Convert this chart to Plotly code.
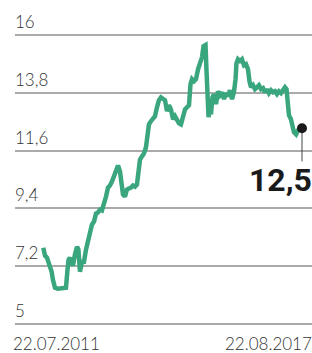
import plotly.graph_objects as go

dates = [
 "2011-07-22","2011-08-06","2011-08-23","2011-09-09","2011-10-02","2011-10-13","2011-10-31","2011-11-25","2011-12-30","2012-02-02",
 "2012-02-15","2012-02-24","2012-03-07","2012-03-25","2012-04-02","2012-04-19","2012-05-07","2012-05-19","2012-06-01","2012-06-19",
 "2012-07-06","2012-07-23","2012-08-09","2012-08-26","2012-09-12","2012-09-30","2012-10-17","2012-11-03","2012-11-20","2012-12-07",
 "2012-12-25","2013-01-11","2013-01-28","2013-02-14","2013-03-03","2013-03-21","2013-04-07","2013-04-24","2013-05-11","2013-05-24",
 "2013-06-06","2013-06-23","2013-07-10","2013-07-27","2013-08-14","2013-08-31","2013-09-17","2013-10-04","2013-10-17","2013-10-30",
 "2013-11-16","2013-12-03","2013-12-20","2014-01-02","2014-01-15","2014-02-01","2014-02-19","2014-03-08","2014-03-25","2014-04-11",
 "2014-04-28","2014-05-16","2014-06-02","2014-06-19","2014-07-06","2014-07-23","2014-08-10","2014-08-27","2014-09-13","2014-09-30",
 "2014-10-17","2014-11-04","2014-11-21","2014-12-08","2014-12-25","2015-01-07","2015-01-20","2015-02-06","2015-02-23","2015-03-13",
 "2015-03-30","2015-04-16","2015-04-29","2015-05-16","2015-05-24","2015-06-02","2015-06-11","2015-06-23","2015-07-02","2015-07-15",
 "2015-07-28","2015-08-14","2015-08-31","2015-09-17","2015-10-05","2015-10-22","2015-11-08","2015-11-25","2015-12-12","2015-12-30",
 "2016-01-16","2016-01-29","2016-02-06","2016-02-19","2016-03-07","2016-03-24","2016-04-11","2016-04-28","2016-05-15","2016-05-28",
 "2016-06-10","2016-06-27","2016-07-14","2016-07-31","2016-08-17","2016-09-04","2016-09-21","2016-10-08","2016-10-25","2016-11-11",
 "2016-11-29","2016-12-16","2017-01-02","2017-01-19","2017-02-05","2017-02-23","2017-03-12","2017-03-29","2017-04-11","2017-04-19",
 "2017-05-02","2017-05-19","2017-06-01","2017-06-14","2017-07-02","2017-07-19","2017-08-05","2017-08-22",
]
values = [
 7.90,7.60,7.52,7.29,6.99,6.68,6.38,6.34,6.38,6.38,
 7.06,7.44,7.52,7.37,7.22,7.64,7.94,7.83,6.99,7.37,
 7.37,7.83,8.21,8.51,8.78,8.90,9.20,9.24,9.35,9.32,
 9.55,9.85,10.19,10.27,10.42,10.65,10.88,11.03,10.81,10.31,
 9.93,9.85,10.12,10.16,10.19,10.27,10.23,10.31,10.88,11.26,
 11.38,11.49,11.72,12.33,12.60,12.72,12.79,12.91,13.25,13.52,
 13.63,13.59,13.52,13.10,13.33,13.17,12.79,12.91,12.72,12.64,
 12.60,12.87,13.17,13.25,13.33,14.13,14.32,14.24,14.32,14.70,
 15.01,15.16,15.58,15.62,14.70,13.56,12.87,13.25,12.98,13.63,
 13.75,13.37,13.86,13.71,13.82,13.56,13.79,13.67,13.90,13.56,
 13.86,14.32,14.93,15.08,15.01,15.08,14.85,14.89,14.70,14.24,
 14.01,14.09,13.94,14.01,14.09,13.94,13.98,13.82,13.94,13.79,
 13.90,13.82,13.86,13.75,13.86,13.79,13.94,14.01,13.94,13.33,
 12.95,12.79,12.49,12.30,12.22,12.37,12.41,12.45,
]
y_ticks = [5, 7.2, 9.4, 11.6, 13.8, 16]
y_tick_labels = ["5", "7,2", "9,4", "11,6", "13,8", "16"]
start_label = "22.07.2011"
end_label = "22.08.2017"
last_label = "12,5"
connector_bottom = 11.19

GREEN = "#3aa67d"
LIGHT = dict(family="Lato", size=17, color="#333333", weight=300)

fig = go.Figure()
fig.add_trace(go.Scatter(x=dates, y=values, mode="lines",
                         line=dict(color=GREEN, width=4.5), hoverinfo="skip"))
fig.add_trace(go.Scatter(x=[dates[-1], dates[-1]], y=[values[-1], connector_bottom],
                         mode="lines", line=dict(color="#444444", width=1), hoverinfo="skip"))
fig.add_trace(go.Scatter(x=[dates[-1]], y=[values[-1]], mode="markers",
                         marker=dict(color="#1a1a1a", size=10), hoverinfo="skip"))

fig.add_annotation(text=last_label, xref="paper", x=1.0, xanchor="right", xshift=2,
                   yref="y", y=10.5, yanchor="middle", showarrow=False,
                   font=dict(family="Roboto", size=32, color="#1a1a1a", weight=700))
fig.add_annotation(text=start_label, xref="paper", x=0, xanchor="left", xshift=-4,
                   yref="paper", y=0, yanchor="top", yshift=-6, showarrow=False, font=LIGHT)
fig.add_annotation(text=end_label, xref="paper", x=1.0, xanchor="right", xshift=2,
                   yref="paper", y=0, yanchor="top", yshift=-6, showarrow=False, font=LIGHT)

fig.update_layout(
    width=312, height=353,
    margin=dict(l=15, r=0, t=8, b=28, autoexpand=False),
    paper_bgcolor="white", plot_bgcolor="white",
    showlegend=False,
    xaxis=dict(type="date", range=["2010-11-21", "2017-11-16"], showgrid=False,
               showticklabels=False, zeroline=False, showline=False, ticks="",
               automargin=False),
    yaxis=dict(range=[4.96, 17.03], tickvals=y_ticks, ticktext=y_tick_labels,
               showgrid=True, gridcolor="#aaaaaa", gridwidth=1.5, zeroline=False,
               showline=False, ticks="", ticklabelposition="inside",
               ticklabelshift=-13, ticklabelstandoff=-3, tickfont=LIGHT,
               automargin=False),
)
fig.write_html("out.html", config={"displayModeBar": False},
               post_script="document.body.style.margin='0';")
